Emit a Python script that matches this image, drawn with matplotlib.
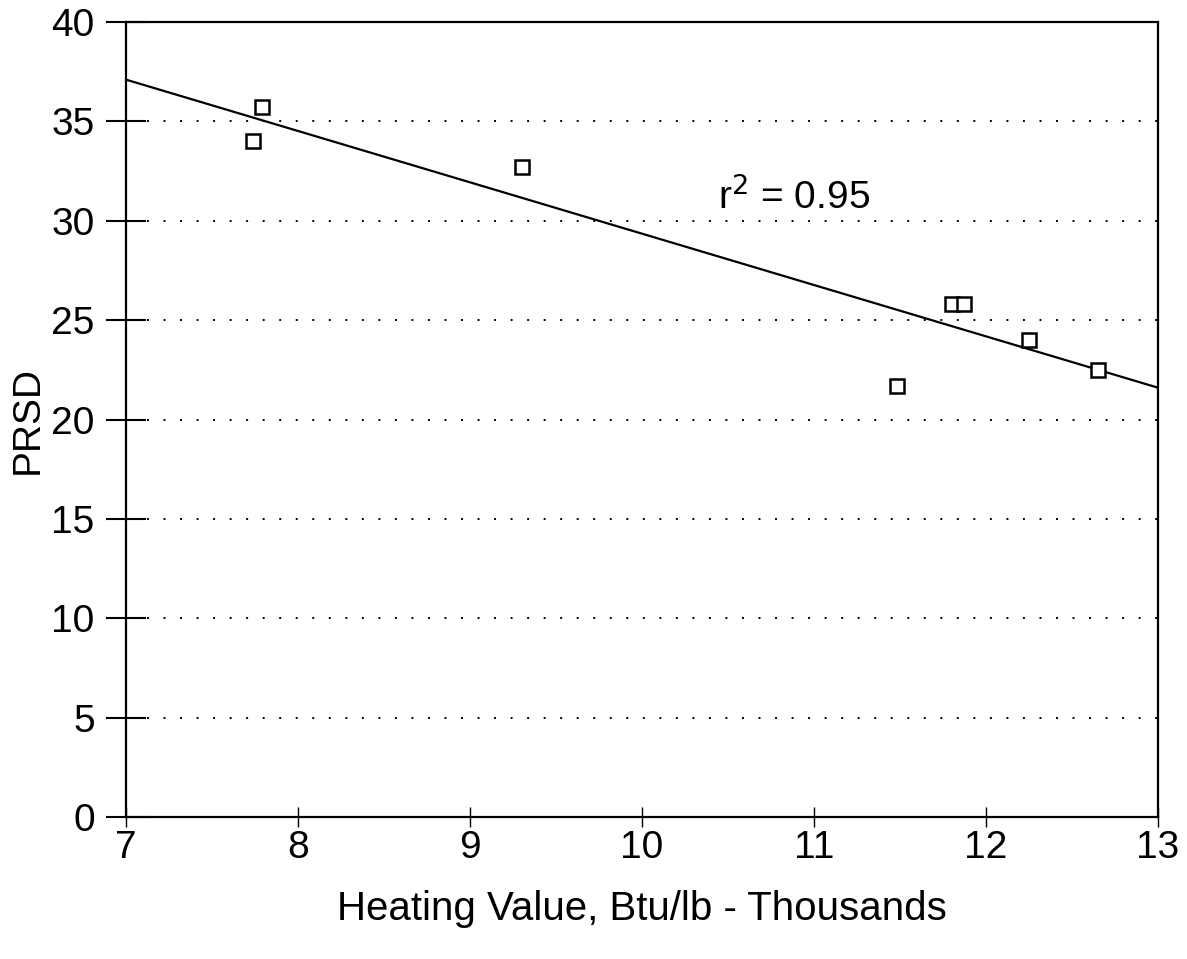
import numpy as np
import matplotlib.pyplot as plt

plt.rcParams['font.family'] = ['Liberation Sans', 'DejaVu Sans']

# data
heating_value = [7.74, 7.79, 9.30, 11.48, 11.80, 11.87, 12.25, 12.65]
prsd = [34.0, 35.7, 32.7, 21.7, 25.8, 25.8, 24.0, 22.5]

# regression line end points
fit_x = [7, 13]
fit_y = [37.1, 21.6]

x_ticks = [7, 8, 9, 10, 11, 12, 13]
y_ticks = [0, 5, 10, 15, 20, 25, 30, 35, 40]
grid_levels = [5, 10, 15, 20, 25, 30, 35]

fig = plt.figure(figsize=(11.87, 9.59), dpi=100)
ax = fig.add_axes([126 / 1187, 1 - 817 / 959, (1158 - 126) / 1187, (817 - 22) / 959])

for lvl in grid_levels:
    ax.plot([7.12, 13], [lvl, lvl], color='black', linewidth=1.4,
            linestyle=(0, (1, 7.5)), zorder=1)

ax.plot(fit_x, fit_y, color='black', linewidth=1.6, zorder=2)
ax.plot(heating_value, prsd, linestyle='none', marker='s', markersize=9.5,
        markerfacecolor='white', markeredgecolor='black', markeredgewidth=1.8, zorder=3)

ax.text(10.44, 31.2, 'r$^2$ = 0.95', fontsize=28, va='center', ha='left')

ax.set_xlim(7, 13)
ax.set_ylim(0, 40)
ax.set_xticks(x_ticks)
ax.set_yticks(y_ticks)
ax.tick_params(axis='y', direction='inout', length=29, width=1.5, labelsize=28, pad=8)
ax.tick_params(axis='x', direction='inout', length=14, width=1.0, labelsize=28, pad=2)

for sp in ax.spines.values():
    sp.set_linewidth(1.6)

ax.set_xlabel('Heating Value, Btu/lb - Thousands', fontsize=29, labelpad=18)
ax.set_ylabel('PRSD', fontsize=28, labelpad=4)

fig.savefig('out.png', dpi=100)
